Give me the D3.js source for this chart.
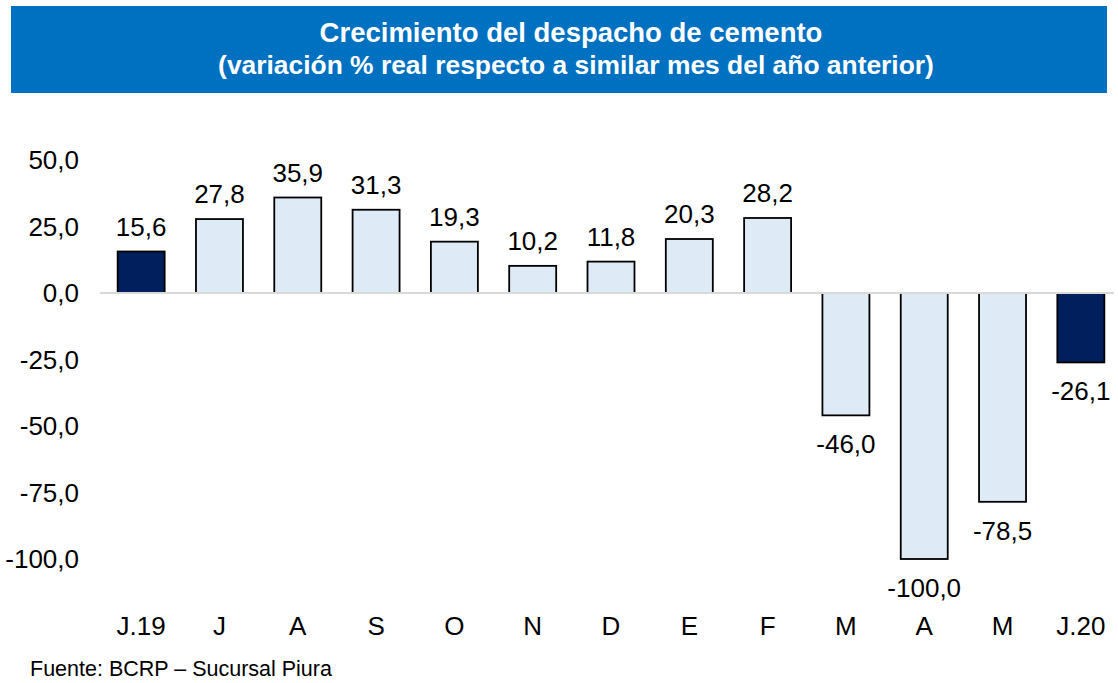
<!DOCTYPE html>
<html>
<head>
<meta charset="utf-8">
<script src="https://cdn.jsdelivr.net/npm/d3@7"></script>
<style>
  body { margin: 0; background: #fff; }
  svg { display: block; font-family: "Liberation Sans", Arial, sans-serif; }
</style>
</head>
<body>
<script>
//chart data
var categories = ["J.19", "J", "A", "S", "O", "N", "D", "E", "F", "M", "A ", "M ", "J.20"];
var tickLabels = ["J.19", "J", "A", "S", "O", "N", "D", "E", "F", "M", "A", "M", "J.20"];
var values = [15.6, 27.8, 35.9, 31.3, 19.3, 10.2, 11.8, 20.3, 28.2, -46.0, -100.0, -78.5, -26.1];
var highlight = [true, false, false, false, false, false, false, false, false, false, false, false, true];
var yTicks = [50, 25, 0, -25, -50, -75, -100];

var width = 1118,
    height = 683;

var svg = d3.select("body")
    .append("svg")
    .attr("width", width)
    .attr("height", height);

//title banner
svg.append("rect")
    .attr("x", 11)
    .attr("y", 6)
    .attr("width", 1096)
    .attr("height", 87)
    .attr("fill", "#0070C0");

svg.append("text")
    .attr("x", 571)
    .attr("y", 42)
    .attr("text-anchor", "middle")
    .attr("fill", "#fff")
    .attr("font-weight", "bold")
    .attr("font-size", "27.5px")
    .text("Crecimiento del despacho de cemento");

svg.append("text")
    .attr("x", 576)
    .attr("y", 74)
    .attr("text-anchor", "middle")
    .attr("fill", "#fff")
    .attr("font-weight", "bold")
    .attr("font-size", "26.4px")
    .text("(variación % real respecto a similar mes del año anterior)");

//scales
var x = d3.scaleBand()
    .domain(categories)
    .range([102, 1120])
    .paddingInner(0.4)
    .paddingOuter(0.2);

var y = d3.scaleLinear()
    .domain([-100, 50])
    .range([559, 160]);

var fmt = function(v){ return d3.format(".1f")(v).replace(".", ",").replace("\u2212", "-"); };

//y axis labels
svg.selectAll(".ytick")
    .data(yTicks)
    .enter()
    .append("text")
    .attr("class", "ytick")
    .attr("x", 79)
    .attr("y", function(d){ return y(d) + 9; })
    .attr("text-anchor", "end")
    .attr("font-size", "26px")
    .attr("fill", "#000")
    .text(fmt);

//bars
svg.selectAll(".bar")
    .data(values)
    .enter()
    .append("rect")
    .attr("class", "bar")
    .attr("x", function(d, i){ return x(categories[i]); })
    .attr("y", function(d){ return y(Math.max(0, d)); })
    .attr("width", x.bandwidth())
    .attr("height", function(d){ return Math.abs(y(d) - y(0)); })
    .attr("fill", function(d, i){ return highlight[i] ? "#001F5C" : "#DEEAF6"; })
    .attr("stroke", "#000")
    .attr("stroke-width", 1.8);

//zero line
svg.append("line")
    .attr("x1", 100)
    .attr("x2", 1114)
    .attr("y1", y(0))
    .attr("y2", y(0))
    .attr("stroke", "#D9D9D9")
    .attr("stroke-width", 2);

//value labels
svg.selectAll(".val")
    .data(values)
    .enter()
    .append("text")
    .attr("class", "val")
    .attr("x", function(d, i){ return x(categories[i]) + x.bandwidth() / 2; })
    .attr("y", function(d){ return d >= 0 ? y(d) - 16 : y(d) + 38; })
    .attr("text-anchor", "middle")
    .attr("font-size", "26px")
    .attr("fill", "#000")
    .text(fmt);

//category labels
svg.selectAll(".cat")
    .data(categories)
    .enter()
    .append("text")
    .attr("class", "cat")
    .attr("x", function(d){ return x(d) + x.bandwidth() / 2; })
    .attr("y", 635)
    .attr("text-anchor", "middle")
    .attr("font-size", "26px")
    .attr("fill", "#000")
    .text(function(d, i){ return tickLabels[i]; });

//source
svg.append("text")
    .attr("x", 30)
    .attr("y", 676)
    .attr("font-size", "21.5px")
    .attr("fill", "#000")
    .text("Fuente: BCRP – Sucursal Piura");
</script>
</body>
</html>
